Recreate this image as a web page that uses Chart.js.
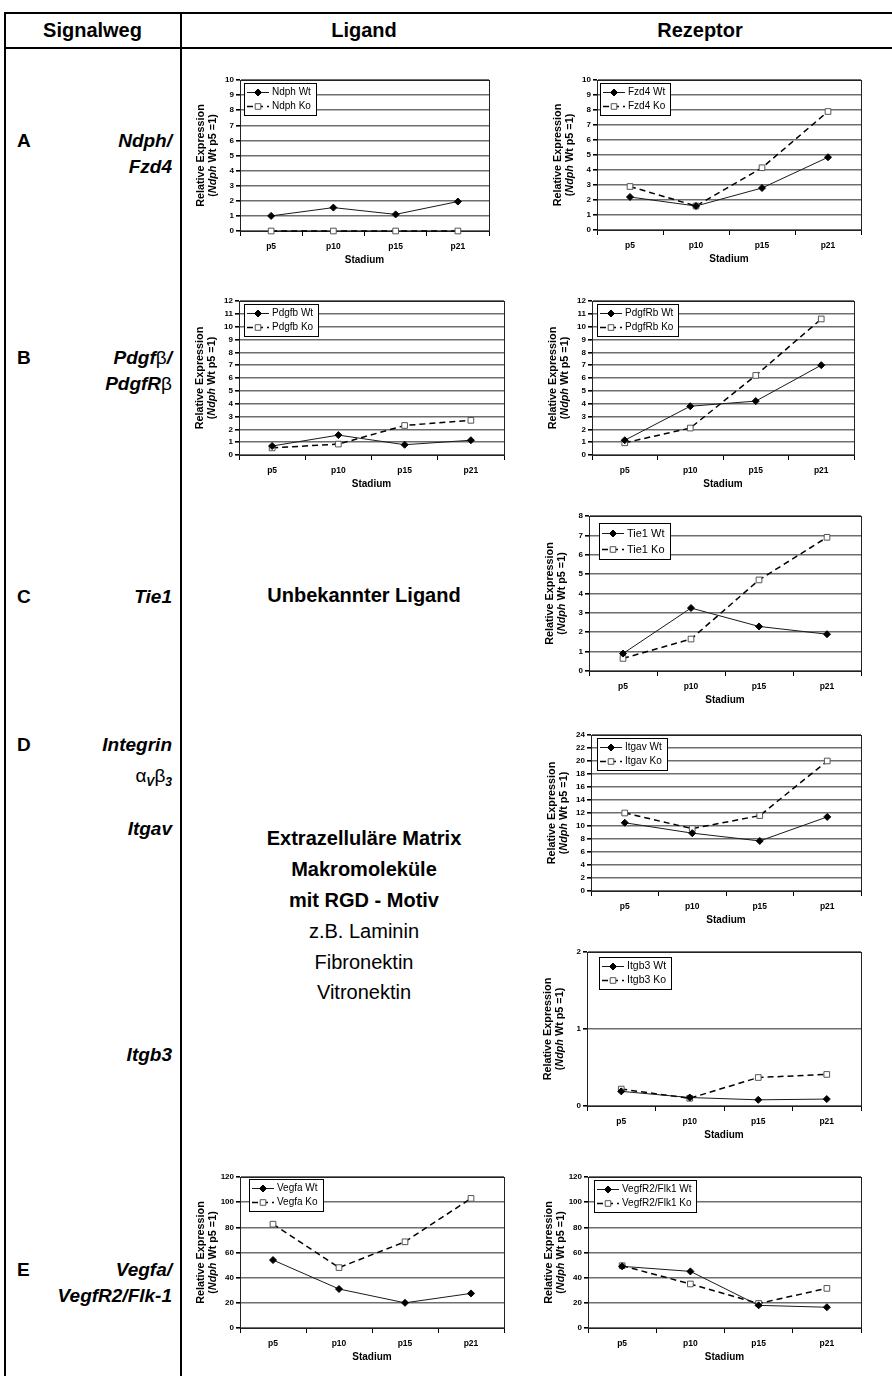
<!DOCTYPE html>
<html><head><meta charset="utf-8">
<script src="https://cdn.jsdelivr.net/npm/chart.js@4.4.0/dist/chart.umd.min.js"></script>
<style>
html,body{margin:0;padding:0;background:#fff;}
#page{position:relative;width:892px;height:1376px;overflow:hidden;font-family:"Liberation Sans",Arial,sans-serif;color:#000;background:#fff;}
.hl{position:absolute;background:#000;}
.t{position:absolute;white-space:nowrap;line-height:24px;}
.hdr{font-size:20px;font-weight:bold;text-align:center;}
.lt{left:17px;font-size:19px;font-weight:bold;}
.rt{left:10px;width:162px;text-align:right;font-size:19px;font-weight:bold;font-style:italic;}
.sym{font-weight:normal;font-style:normal;}
.mid{left:181px;width:366px;text-align:center;font-size:20px;}
.b{font-weight:bold;}
sub{font-size:12px;vertical-align:-4px;line-height:0;}
</style></head>
<body>
<div id="page">
  <div class="hl" style="left:4px;top:12px;width:888px;height:1.5px"></div>
  <div class="hl" style="left:4px;top:47px;width:888px;height:1.5px"></div>
  <div class="hl" style="left:4px;top:12px;width:1.5px;height:1364px"></div>
  <div class="hl" style="left:180px;top:12px;width:1.5px;height:1364px"></div>

  <div class="t hdr" style="left:4px;width:177px;top:18px">Signalweg</div>
  <div class="t hdr" style="left:181px;width:366px;top:18px">Ligand</div>
  <div class="t hdr" style="left:547px;width:306px;top:18px">Rezeptor</div>

  <div class="t lt" style="top:129px">A</div>
  <div class="t rt" style="top:129px">Ndph/</div>
  <div class="t rt" style="top:155px">Fzd4</div>

  <div class="t lt" style="top:346px">B</div>
  <div class="t rt" style="top:346px">Pdgf<span class="sym">β</span>/</div>
  <div class="t rt" style="top:372px">PdgfR<span class="sym">β</span></div>

  <div class="t lt" style="top:585px">C</div>
  <div class="t rt" style="top:585px">Tie1</div>

  <div class="t lt" style="top:733px">D</div>
  <div class="t rt" style="top:733px">Integrin</div>
  <div class="t rt" style="top:764px"><span class="sym">α</span><sub>V</sub><span class="sym">β</span><sub>3</sub></div>
  <div class="t rt" style="top:817px">Itgav</div>
  <div class="t rt" style="top:1043px">Itgb3</div>

  <div class="t lt" style="top:1258px">E</div>
  <div class="t rt" style="top:1258px">Vegfa/</div>
  <div class="t rt" style="top:1284px">VegfR2/Flk-1</div>

  <div class="t mid b" style="top:583px">Unbekannter Ligand</div>
  <div class="t mid b" style="top:826px">Extrazelluläre Matrix</div>
  <div class="t mid b" style="top:857px">Makromoleküle</div>
  <div class="t mid b" style="top:888px">mit RGD - Motiv</div>
  <div class="t mid" style="top:919px">z.B. Laminin</div>
  <div class="t mid" style="top:950px">Fibronektin</div>
  <div class="t mid" style="top:980px">Vitronektin</div>
</div>
<script>
const stages = ['p5', 'p10', 'p15', 'p21'];
const yTitleLine1 = 'Relative Expression';
const yTitleLine2 = ['(', 'Ndph', ' Wt p5 =1)'];
const xTitle = 'Stadium';

const ndphNames = ['Ndph Wt', 'Ndph Ko'];
const ndphWt = [1.0, 1.55, 1.1, 1.95];
const ndphKo = [0, 0, 0, 0];

const fzd4Names = ['Fzd4 Wt', 'Fzd4 Ko'];
const fzd4Wt = [2.2, 1.6, 2.8, 4.85];
const fzd4Ko = [2.9, 1.6, 4.15, 7.9];

const pdgfbNames = ['Pdgfb Wt', 'Pdgfb Ko'];
const pdgfbWt = [0.7, 1.55, 0.8, 1.15];
const pdgfbKo = [0.55, 0.85, 2.3, 2.7];

const pdgfrbNames = ['PdgfRb Wt', 'PdgfRb Ko'];
const pdgfrbWt = [1.15, 3.8, 4.2, 7.0];
const pdgfrbKo = [0.95, 2.1, 6.2, 10.6];

const tie1Names = ['Tie1 Wt', 'Tie1 Ko'];
const tie1Wt = [0.9, 3.25, 2.3, 1.9];
const tie1Ko = [0.65, 1.65, 4.7, 6.9];

const itgavNames = ['Itgav Wt', 'Itgav Ko'];
const itgavWt = [10.5, 8.9, 7.7, 11.4];
const itgavKo = [12.0, 9.6, 11.6, 20.0];

const itgb3Names = ['Itgb3 Wt', 'Itgb3 Ko'];
const itgb3Wt = [0.19, 0.11, 0.08, 0.09];
const itgb3Ko = [0.22, 0.10, 0.37, 0.41];

const vegfaNames = ['Vegfa Wt', 'Vegfa Ko'];
const vegfaWt = [54, 31, 20, 27.5];
const vegfaKo = [82.5, 48, 68.5, 103];

const vegfr2Names = ['VegfR2/Flk1 Wt', 'VegfR2/Flk1 Ko'];
const vegfr2Wt = [49, 45, 18, 16.5];
const vegfr2Ko = [49.5, 35, 19.5, 31.5];

const yMax = {ndph: 10, fzd4: 10, pdgfb: 12, pdgfrb: 12, tie1: 8, itgav: 24, itgb3: 2, vegfa: 120, vegfr2: 120};
const yStep = {ndph: 1, fzd4: 1, pdgfb: 1, pdgfrb: 1, tie1: 1, itgav: 2, itgb3: 1, vegfa: 20, vegfr2: 20};

const series = [
  {id: 'ndph', names: ndphNames, wt: ndphWt, ko: ndphKo},
  {id: 'fzd4', names: fzd4Names, wt: fzd4Wt, ko: fzd4Ko},
  {id: 'pdgfb', names: pdgfbNames, wt: pdgfbWt, ko: pdgfbKo},
  {id: 'pdgfrb', names: pdgfrbNames, wt: pdgfrbWt, ko: pdgfrbKo},
  {id: 'tie1', names: tie1Names, wt: tie1Wt, ko: tie1Ko},
  {id: 'itgav', names: itgavNames, wt: itgavWt, ko: itgavKo},
  {id: 'itgb3', names: itgb3Names, wt: itgb3Wt, ko: itgb3Ko},
  {id: 'vegfa', names: vegfaNames, wt: vegfaWt, ko: vegfaKo},
  {id: 'vegfr2', names: vegfr2Names, wt: vegfr2Wt, ko: vegfr2Ko}
];

// layout (plot area in page pixels) and legend placement
const layoutBoxes = {
  ndph:   {L: 240, R: 490, T: 80,  B: 231,  lx: 4,  ly: 3, lf: 10},
  fzd4:   {L: 597, R: 862, T: 80,  B: 230,  lx: 3,  ly: 3, lf: 10},
  pdgfb:  {L: 239, R: 505, T: 301, B: 455,  lx: 5,  ly: 3, lf: 10},
  pdgfrb: {L: 592, R: 855, T: 301, B: 455,  lx: 5,  ly: 3, lf: 10},
  tie1:   {L: 589, R: 862, T: 516, B: 671,  lx: 10, ly: 7, lf: 11},
  itgav:  {L: 591, R: 862, T: 735, B: 891,  lx: 6,  ly: 3, lf: 10},
  itgb3:  {L: 587, R: 862, T: 952, B: 1106, lx: 12, ly: 5, lf: 10.5},
  vegfa:  {L: 240, R: 505, T: 1177, B: 1328, lx: 9, ly: 2, lf: 10},
  vegfr2: {L: 588, R: 862, T: 1177, B: 1328, lx: 6, ly: 3, lf: 10}
};

Chart.defaults.font.family = '"Liberation Sans", Arial, sans-serif';
Chart.defaults.color = '#000';

const FONT = '"Liberation Sans", Arial, sans-serif';

function drawMarker(ctx, style, x, y, fill, stroke) {
  ctx.beginPath();
  if (style === 'rectRot') {
    const r = 3.5;
    ctx.moveTo(x, y - r); ctx.lineTo(x + r, y); ctx.lineTo(x, y + r); ctx.lineTo(x - r, y); ctx.closePath();
  } else {
    const s = 2.8;
    ctx.rect(x - s, y - s, 2 * s, 2 * s);
  }
  ctx.fillStyle = fill; ctx.fill();
  ctx.lineWidth = 1; ctx.strokeStyle = stroke; ctx.setLineDash([]); ctx.stroke();
}

const framePlugin = {
  id: 'frame',
  beforeDatasetsDraw(chart) {
    const {ctx, chartArea: a} = chart;
    ctx.save();
    ctx.strokeStyle = '#222';
    ctx.lineWidth = 1;
    ctx.strokeRect(Math.round(a.left) + 0.5, Math.round(a.top) + 0.5, Math.round(a.right - a.left), Math.round(a.bottom - a.top));
    ctx.restore();
  }
};

const yTitlePlugin = {
  id: 'yTitle2',
  afterDraw(chart) {
    const {ctx, chartArea: a} = chart;
    const cy = (a.top + a.bottom) / 2;
    ctx.save();
    ctx.translate(a.left - 39, cy);
    ctx.rotate(-Math.PI / 2);
    ctx.fillStyle = '#000';
    ctx.textBaseline = 'middle';
    ctx.textAlign = 'center';
    ctx.font = 'bold 10.8px ' + FONT;
    ctx.fillText(yTitleLine1, 0, 0);
    const fonts = ['bold 10.8px ' + FONT, 'italic bold 10.8px ' + FONT, 'bold 10.8px ' + FONT];
    let total = 0;
    const widths = yTitleLine2.map((p, i) => { ctx.font = fonts[i]; const w = ctx.measureText(p).width; total += w; return w; });
    let x = -total / 2;
    ctx.textAlign = 'left';
    yTitleLine2.forEach((p, i) => { ctx.font = fonts[i]; ctx.fillText(p, x, 12); x += widths[i]; });
    ctx.restore();
  }
};

const legendPlugin = {
  id: 'boxLegend',
  afterDatasetsDraw(chart, args, opts) {
    const {ctx, chartArea: a} = chart;
    ctx.save();
    ctx.font = opts.font + 'px ' + FONT;
    const ds = chart.data.datasets;
    const tw = Math.max(...ds.map(d => ctx.measureText(d.label).width));
    const sample = 22;
    const x0 = Math.round(a.left + opts.dx), y0 = Math.round(a.top + opts.dy);
    const rowH = opts.font > 10.5 ? 16 : 14;
    const h = rowH * 2 + 4;
    const w = Math.round(3 + sample + 3 + tw + 5);
    ctx.fillStyle = '#fff';
    ctx.fillRect(x0, y0, w, h);
    ctx.strokeStyle = '#000';
    ctx.lineWidth = 1;
    ctx.strokeRect(x0 + 0.5, y0 + 0.5, w, h);
    ds.forEach((d, i) => {
      const y = y0 + 2 + rowH / 2 + i * rowH + 0.5;
      ctx.beginPath();
      ctx.setLineDash(d.borderDash || []);
      ctx.lineWidth = d.borderWidth;
      ctx.strokeStyle = d.borderColor;
      ctx.moveTo(x0 + 3, y);
      ctx.lineTo(x0 + 3 + sample, y);
      ctx.stroke();
      drawMarker(ctx, d.pointStyle, x0 + 3 + sample / 2, y, d.pointBackgroundColor, d.pointBorderColor);
      ctx.fillStyle = '#000';
      ctx.textBaseline = 'middle';
      ctx.textAlign = 'left';
      ctx.fillText(d.label, x0 + 3 + sample + 3, y);
    });
    ctx.restore();
  }
};

const page = document.getElementById('page');

series.forEach(s => {
  const p = layoutBoxes[s.id];
  const pad = 8, yW = 50, xH = 35, rp = 4;
  const w = p.R - p.L + yW + rp, h = p.B - p.T + pad + xH;
  const c = document.createElement('canvas');
  c.width = w; c.height = h;
  c.style.cssText = `position:absolute;left:${p.L - yW}px;top:${p.T - pad}px;width:${w}px;height:${h}px;`;
  page.appendChild(c);
  new Chart(c, {
    type: 'line',
    data: {
      labels: stages,
      datasets: [
        {label: s.names[0], data: s.wt, borderColor: '#1a1a1a', borderWidth: 1, pointStyle: 'rectRot', pointRadius: 3.5,
         pointBackgroundColor: '#000', pointBorderColor: '#000', pointBorderWidth: 1, tension: 0, fill: false, clip: false},
        {label: s.names[1], data: s.ko, borderColor: '#000', borderWidth: 1.5, borderDash: [6, 4], pointStyle: 'rect', pointRadius: 4,
         pointBackgroundColor: '#fff', pointBorderColor: '#555', pointBorderWidth: 1, tension: 0, fill: false, clip: false}
      ]
    },
    options: {
      responsive: false,
      animation: false,
      devicePixelRatio: 1,
      layout: {padding: {top: pad, right: rp, left: 0, bottom: 0}},
      plugins: {
        legend: {display: false},
        tooltip: {enabled: false},
        boxLegend: {dx: p.lx, dy: p.ly, font: p.lf}
      },
      scales: {
        x: {
          type: 'category',
          offset: true,
          grid: {display: true, drawOnChartArea: false, drawTicks: true, tickLength: 5, offset: true, color: '#000', tickColor: '#000'},
          border: {display: true, color: '#000', width: 1},
          ticks: {font: {size: 8.5, weight: 'bold'}, color: '#000', padding: 6, maxRotation: 0, autoSkip: false},
          title: {display: true, text: xTitle, font: {size: 10, weight: 'bold'}, color: '#000', padding: {top: 0, bottom: 0}},
          afterFit(scale) { scale.height = xH; }
        },
        y: {
          min: 0,
          max: yMax[s.id],
          ticks: {stepSize: yStep[s.id], autoSkip: false, font: {size: 8, weight: 'bold'}, color: '#000', padding: 2},
          grid: {color: '#6e6e6e', lineWidth: 1.6, tickColor: '#000', tickLength: 4, drawTicks: true},
          border: {display: true, color: '#000', width: 1},
          afterFit(scale) { scale.width = yW; }
        }
      }
    },
    plugins: [framePlugin, legendPlugin, yTitlePlugin]
  });
});
</script>
</body></html>
